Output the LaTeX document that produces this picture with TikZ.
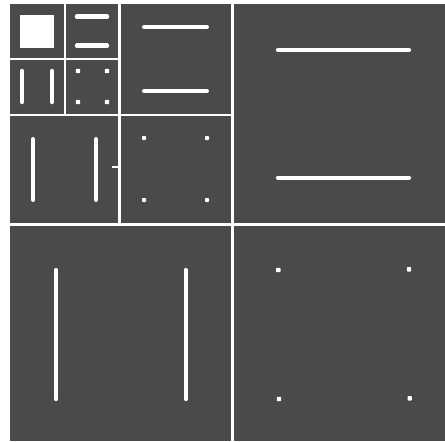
\documentclass[tikz,border=0pt]{standalone}
\definecolor{bg}{RGB}{74,74,74}
\tikzset{
  divider/.style={draw=white, line width=#1},
  bar/.style={draw=white, line width=#1, line cap=round},
  dot/.style={fill=white, rounded corners=0.8pt},
}
\begin{document}
\begin{tikzpicture}[x=1pt,y=-1pt]
\useasboundingbox (0,0) rectangle (445,442);
\fill[white] (0,0) rectangle (445,442);
\fill[bg] (10,4) rectangle (445,441);
% dividers
\draw[divider=3pt] (232,4) -- (232,441);
\draw[divider=3pt] (10,224.5) -- (445,224.5);
\draw[divider=2.5pt] (119.7,4) -- (119.7,224.5);
\draw[divider=2.5pt] (10,115) -- (232,115);
\draw[divider=2pt] (64.5,4) -- (64.5,115);
\draw[divider=2pt] (10,59) -- (119.7,59);
% level 3
\fill[white] (20,15) rectangle (54,48.3);
\draw[bar=4.5pt] (77,16.7) -- (107,16.7);
\draw[bar=4.5pt] (77,45.7) -- (107,45.7);
\draw[bar=4.5pt] (22,71) -- (22,102);
\draw[bar=4.5pt] (52,71) -- (52,102);
\foreach \x/\y in {78/71,107/71,78/102,107/102}
  \fill[dot] (\x-2.2,\y-2.2) rectangle (\x+2.2,\y+2.2);
% level 2
\draw[bar=4pt] (144,27) -- (207,27);
\draw[bar=4pt] (144,91) -- (207,91);
\draw[bar=4pt] (33,139) -- (33,200);
\draw[bar=4pt] (96,139) -- (96,200);
\draw[white, line width=2pt] (112.3,166.7) -- (119,166.7);
\foreach \x/\y in {144/138,207/138,144/200,207/200}
  \fill[dot] (\x-2,\y-2) rectangle (\x+2,\y+2);
% level 1
\draw[bar=4.2pt] (278,50) -- (409,50);
\draw[bar=4.2pt] (278,177.7) -- (409,177.7);
\draw[bar=4.2pt] (56,270) -- (56,399);
\draw[bar=4.2pt] (185.7,270) -- (185.7,399);
\foreach \x/\y in {278.3/270,409/269.3,279/399,409.7/398.3}
  \fill[dot] (\x-2.2,\y-2.2) rectangle (\x+2.2,\y+2.2);
\end{tikzpicture}
\end{document}
